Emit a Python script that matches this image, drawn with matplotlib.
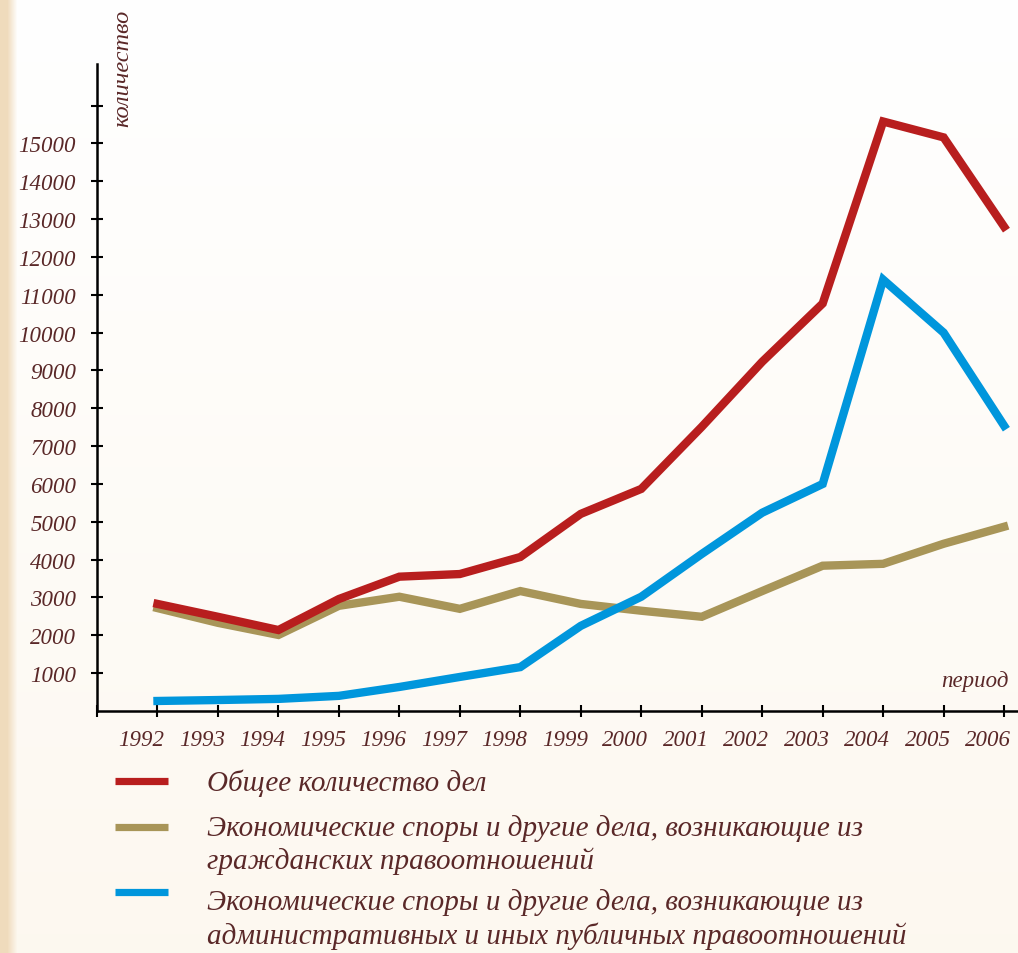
import numpy as np
import matplotlib.pyplot as plt
from matplotlib.lines import Line2D
from matplotlib.transforms import ScaledTranslation

years = list(range(1992, 2007))
total_cases = [2830, 2490, 2140, 2960, 3550, 3620, 4070, 5210, 5870,
               7510, 9230, 10770, 15580, 15160, 12800]
civil_cases = [2720, 2330, 2010, 2780, 3020, 2700, 3170, 2830, 2650,
               2490, 3170, 3840, 3890, 4420, 4870]
public_cases = [265, 290, 320, 400, 635, 900, 1160, 2250, 3020,
                4150, 5240, 6000, 11400, 10000, 7540]
y_ticks = list(range(1000, 17000, 1000))
y_labels = [str(v) if v <= 15000 else "" for v in y_ticks]
labels = ["Общее количество дел",
          "Экономические споры и другие дела, возникающие из\nгражданских правоотношений",
          "Экономические споры и другие дела, возникающие из\nадминистративных и иных публичных правоотношений"]
colors = ["#b81e1e", "#a89558", "#0096dc"]

txt = "#5a2828"
plt.rcParams['font.family'] = ['Liberation Serif', 'DejaVu Serif']
plt.rcParams['font.style'] = 'italic'

W, H = 1018, 954
fig = plt.figure(figsize=(W / 100, H / 100), dpi=100)


def fx(px):
    return px / W


def fy(py):
    return 1 - py / H


# background: cream strip on the left fading to white, warmer toward bottom
bg = fig.add_axes([0, 0, 1, 1], zorder=-10)
xx = np.arange(W)
left = np.clip((xx - 7) / 10.0, 0, 1)
c_strip = np.array([0.94, 0.86, 0.74])
c_top = np.array([1.0, 1.0, 1.0])
c_bot = np.array([0.992, 0.973, 0.94])
vert = np.linspace(0, 1, H)[:, None, None]
base = c_top * (1 - vert) + c_bot * vert
img = base * left[None, :, None] + c_strip * (1 - left[None, :, None])
bg.imshow(img, aspect='auto', extent=[0, 1, 0, 1])
bg.axis('off')

ax = fig.add_axes([fx(97), fy(712), fx(W - 97), fy(65) - fy(712)])
ax.patch.set_alpha(0)
ax.plot(years, civil_cases, color=colors[1], lw=6, solid_joinstyle='miter', zorder=3)
ax.plot(years, total_cases, color=colors[0], lw=6, solid_joinstyle='miter', zorder=4)
ax.plot(years, public_cases, color=colors[2], lw=6, solid_joinstyle='miter', zorder=5)

ax.set_xlim(1991, 2006.23)
ax.set_ylim(0, 17100)
for s in ['top', 'right']:
    ax.spines[s].set_visible(False)
for s in ['left', 'bottom']:
    ax.spines[s].set_linewidth(1.8)
    ax.spines[s].set_color('black')

ax.set_yticks(y_ticks)
ax.set_yticklabels(y_labels)
ax.set_xticks(range(1991, 2007))
ax.set_xticklabels([""] + [str(y) for y in years])
ax.tick_params(axis='both', direction='inout', length=8, width=1.5, colors='black',
               labelcolor=txt)
ax.tick_params(axis='y', pad=11, labelsize=16.5)
ax.tick_params(axis='x', pad=9, labelsize=16.5)
shift = ScaledTranslation(-16 / 100, 0, fig.dpi_scale_trans)
for lab in ax.get_xticklabels():
    lab.set_transform(lab.get_transform() + shift)

fig.text(fx(123), fy(68.5), "количество", rotation=90, ha='center', va='center',
         color=txt, fontsize=17.5)
fig.text(fx(1009), fy(682), "период", ha='right', va='center', color=txt, fontsize=16.5)

# legend drawn by hand: swatch aligned with the first line of each label
swatch_y = [782, 828, 893]
text_y = [783, 845, 919.5]
for lab, col, sy, ty in zip(labels, colors, swatch_y, text_y):
    fig.add_artist(Line2D([fx(115), fx(168)], [fy(sy), fy(sy)], color=col, lw=5.2,
                          solid_capstyle='butt', transform=fig.transFigure))
    fig.text(fx(207), fy(ty), lab, ha='left', va='center', color=txt,
             fontsize=21, linespacing=1.28)

fig.savefig("out.png", dpi=100)
